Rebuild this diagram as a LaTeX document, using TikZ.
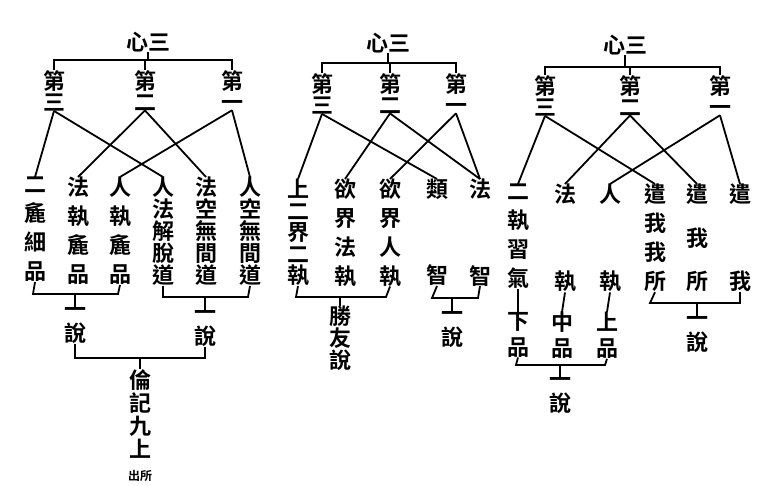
\documentclass[tikz,border=0pt]{standalone}
\usepackage{fontspec}
\newfontfamily\cjk{Noto Sans CJK TC Bold}
\tikzset{>=latex,
  zi/.style={font=\cjk\fontsize{22}{#1}\selectfont, align=center, inner sep=0pt},
  zi/.default=28,
  top/.style={zi=21, anchor=north},
  col/.style={zi=#1, anchor=north},
  ln/.style={line width=1.8pt}}

\begin{document}
\begin{tikzpicture}[x=1pt,y=-1pt]
\useasboundingbox (0,0) rectangle (760,486);

% first tree
\node[zi] (t1) at (148,42) {心三};
\node[top] (a3) at (54,70) {第\\三};
\node[top] (a2) at (145,70) {第\\二};
\node[top] (a1) at (232,70) {第\\一};
\draw[ln] (t1.south) -- (148,60);
\draw[ln] (a3.north) -- (54,60) -- (232,60) -- (a1.north);
\draw[ln] (a2.north) -- (145,60);
\node[col=29] (c1) at (35,177) {二\\麁\\細\\品};
\node[col=29] (c2) at (78,177) {法\\執\\麁\\品};
\node[col=29] (c3) at (120,177) {人\\執\\麁\\品};
\node[col=22] (c4) at (163,177) {人\\法\\解\\脫\\道};
\node[col=22] (c5) at (206,177) {法\\空\\無\\間\\道};
\node[col=22] (c6) at (250,177) {人\\空\\無\\間\\道};
\draw[ln] (a3.south) -- (c1.north);
\draw[ln] (a3.south) -- (c4.north);
\draw[ln] (a2.south) -- (c2.north);
\draw[ln] (a2.south) -- (c5.north);
\draw[ln] (a1.south) -- (c3.north);
\draw[ln] (a1.south) -- (c6.north);
\node[col=24] (s1) at (75,307) {一\\說};
\node[col=24] (s2) at (205,310) {一\\說};
\draw[ln] (c1.south) -- (33,294) -- (118,294) -- (c3.south);
\draw[ln] (s1.north) -- (75,294);
\draw[ln] (c4.south) -- (163,297) -- (248,297) -- (c6.south);
\draw[ln] (s2.north) -- (205,297);
\node[col=23] (lun) at (140,369) {倫\\記\\九\\上\\{\fontsize{12}{14}\selectfont 出所}};
\draw[ln] (s1.south) -- (75,358) -- (205,358) -- (s2.south);
\draw[ln] (lun.north) -- (140,358);

% second tree
\node[zi] (t2) at (388,43) {心三};
\node[top] (b3) at (322,73) {第\\三};
\node[top] (b2) at (390,73) {第\\二};
\node[top] (b1) at (456,73) {第\\一};
\draw[ln] (t2.south) -- (388,63);
\draw[ln] (b3.north) -- (322,63) -- (456,63) -- (b1.north);
\draw[ln] (b2.north) -- (390,63);
\node[col=21.5] (d1) at (298,179) {上\\二\\界\\二\\執};
\node[col=28.7] (d2) at (345,179) {欲\\界\\法\\執};
\node[col=28.7] (d3) at (390,179) {欲\\界\\人\\執};
\node[col=28.7] (d4) at (437,179) {類\\[57.4pt]智};
\node[col=28.7] (d5) at (480,179) {法\\[57.4pt]智};
\draw[ln] (b3.south) -- (d1.north);
\draw[ln] (b3.south) -- (d4.north);
\draw[ln] (b2.south) -- (d2.north);
\draw[ln] (b2.south) -- (d5.north);
\draw[ln] (b1.south) -- (d3.north);
\draw[ln] (b1.south) -- (d5.north);
\node[col=22] (sheng) at (340,306) {勝\\友\\說};
\draw[ln] (d1.south) -- (296,297) -- (386,297) -- (d3.south);
\draw[ln] (sheng.north) -- (340,297);
\node[col=24] (s3) at (452,311) {一\\說};
\draw[ln] (d4.south) -- (432,298) -- (478,298) -- (d5.south);
\draw[ln] (s3.north) -- (452,298);

% third tree
\node[zi] (t3) at (625,45) {心三};
\node[top] (e3) at (545,75) {第\\三};
\node[top] (e2) at (630,75) {第\\二};
\node[top] (e1) at (720,75) {第\\一};
\draw[ln] (t3.south) -- (625,67);
\draw[ln] (e3.north) -- (545,67) -- (720,67) -- (e1.north);
\draw[ln] (e2.north) -- (630,67);
\node[col=29] (f1) at (518,184) {二\\執\\習\\氣};
\node[col=29] (f2) at (565,184) {法\\[58pt]執};
\node[col=29] (f3) at (610,184) {人\\[58pt]執};
\node[col=29] (f4) at (655,184) {遣\\我\\我\\所};
\node[col=29] (f5) at (697,184) {遣\\[14.5pt]我\\[14.5pt]所};
\node[col=29] (f6) at (740,184) {遣\\[58pt]我};
\draw[ln] (e3.south) -- (f1.north);
\draw[ln] (e3.south) -- (f4.north);
\draw[ln] (e2.south) -- (f2.north);
\draw[ln] (e2.south) -- (f5.north);
\draw[ln] (e1.south) -- (f3.north);
\draw[ln] (e1.south) -- (f6.north);
\node[col=26] (g1) at (518,312) {下\\品};
\node[col=26] (g2) at (562,312) {中\\品};
\node[col=26] (g3) at (607,312) {上\\品};
\draw[ln] (f1.south) -- (g1.north);
\draw[ln] (f2.south) -- (g2.north);
\draw[ln] (f3.south) -- (g3.north);
\node[col=24] (s4) at (560,377) {一\\說};
\draw[ln] (g1.south) -- (516,365) -- (605,365) -- (g3.south);
\draw[ln] (s4.north) -- (560,365);
\node[col=24] (s5) at (697,316) {一\\說};
\draw[ln] (f4.south) -- (650,303) -- (740,303) -- (f6.south);
\draw[ln] (s5.north) -- (697,303);
\end{tikzpicture}
\end{document}
